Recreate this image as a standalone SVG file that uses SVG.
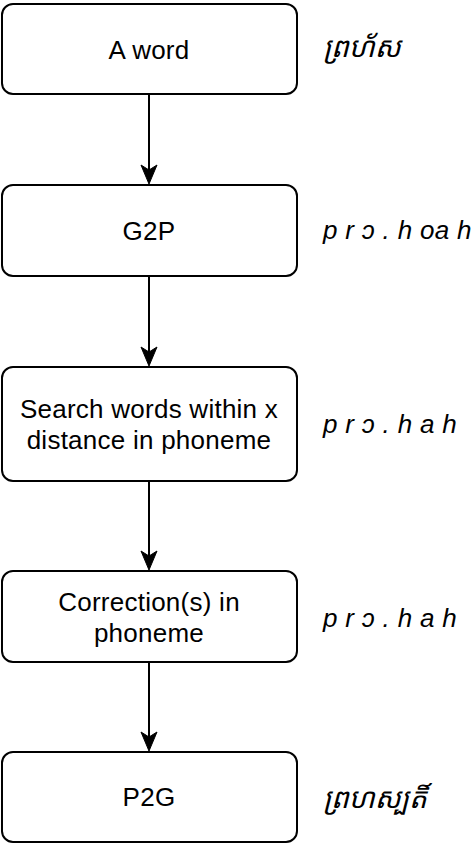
<svg xmlns="http://www.w3.org/2000/svg" width="476" height="844" viewBox="0 0 476 844">
<style>
.box{fill:#fff;stroke:#000;stroke-width:2}
.t{font-family:"Liberation Sans",Arial,sans-serif;font-size:26px;letter-spacing:0.25px;fill:#000;text-anchor:middle}
.r{font-family:"Liberation Sans",Arial,sans-serif;font-size:26px;letter-spacing:0.3px;font-style:italic;fill:#000}
.k{font-family:"Noto Sans Khmer","Khmer OS","Noto Sans","Liberation Sans",sans-serif;font-size:28px;font-style:italic;fill:#000}
.line{stroke:#000;stroke-width:2;fill:none}
.head{fill:#000;stroke:#000;stroke-width:1}
</style>
<defs>
<path id="ah" d="M0,0 L-8,-19 L0,-14 L8,-19 Z"/>
</defs>
<g id="connectors">
<line class="line" x1="149" y1="94" x2="149" y2="172"/>
<use href="#ah" class="head" x="149" y="184"/>
<line class="line" x1="149" y1="276" x2="149" y2="354"/>
<use href="#ah" class="head" x="149" y="366"/>
<line class="line" x1="149" y1="481" x2="149" y2="558"/>
<use href="#ah" class="head" x="149" y="570"/>
<line class="line" x1="149" y1="662" x2="149" y2="739"/>
<use href="#ah" class="head" x="149" y="751"/>
</g>
<g id="n1">
<rect class="box" x="2" y="4" width="295" height="90" rx="11"/>
<text class="t" x="149" y="59">A word</text>
</g>
<g id="n2">
<rect class="box" x="2" y="185" width="295" height="91" rx="11"/>
<text class="t" x="149" y="240">G2P</text>
</g>
<g id="n3">
<rect class="box" x="2" y="367" width="295" height="114" rx="11"/>
<text class="t" x="149" y="418">Search words within x</text>
<text class="t" x="149" y="449">distance in phoneme</text>
</g>
<g id="n4">
<rect class="box" x="2" y="571" width="295" height="91" rx="11"/>
<text class="t" x="149" y="611">Correction(s) in</text>
<text class="t" x="149" y="642">phoneme</text>
</g>
<g id="n5">
<rect class="box" x="2" y="752" width="295" height="90" rx="11"/>
<text class="t" x="149" y="806">P2G</text>
</g>
<g id="labels">
<text class="k" x="323" y="57">ព្រហ័ស</text>
<text class="r" x="323" y="239" xml:space="preserve">p r ɔ . h oa h</text>
<text class="r" x="323" y="433" xml:space="preserve">p r ɔ . h a h</text>
<text class="r" x="323" y="627" xml:space="preserve">p r ɔ . h a h</text>
<text class="k" x="323" y="808">ព្រហស្បតិ៍</text>
</g>
</svg>
